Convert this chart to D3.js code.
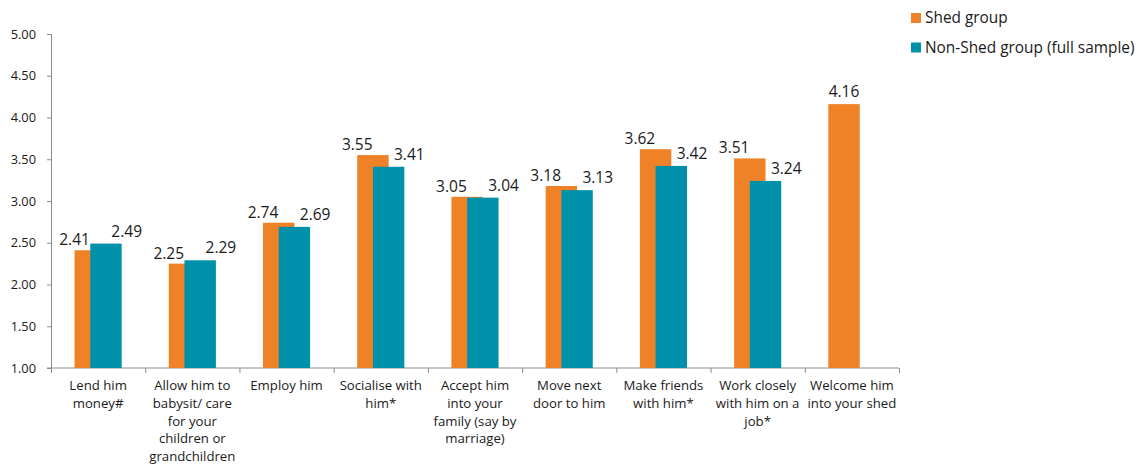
<!DOCTYPE html>
<html>
<head>
<meta charset="utf-8">
<script src="https://cdn.jsdelivr.net/npm/d3@7/dist/d3.min.js"></script>
<style>
  html, body { margin: 0; padding: 0; background: #fff; }
  svg { display: block; font-family: "Open Sans", "Noto Sans", sans-serif; }
</style>
</head>
<body>
<svg id="chart" width="1144" height="466"></svg>
<script>
// ---- data ----
const categories = [
  ["Lend him", "money#"],
  ["Allow him to", "babysit/ care", "for your", "children or", "grandchildren"],
  ["Employ him"],
  ["Socialise with", "him*"],
  ["Accept him", "into your", "family (say by", "marriage)"],
  ["Move next", "door to him"],
  ["Make friends", "with him*"],
  ["Work closely", "with him on a", "job*"],
  ["Welcome him", "into your shed"]
];
const shedValues    = [2.41, 2.25, 2.74, 3.55, 3.05, 3.18, 3.62, 3.51, 4.16];
const nonShedValues = [2.49, 2.29, 2.69, 3.41, 3.04, 3.13, 3.42, 3.24, null];
const seriesNames = ["Shed group", "Non-Shed group (full sample)"];
const yTicks = [1.0, 1.5, 2.0, 2.5, 3.0, 3.5, 4.0, 4.5, 5.0];

const colors = ["#EF8126", "#0091AA"];

(function () {
const svg = d3.select("#chart");
const pL = 51, pR = 899, pT = 34, pB = 368;

const x = d3.scaleBand().domain(d3.range(categories.length)).range([pL, pR]).paddingInner(0).paddingOuter(0);
const y = d3.scaleLinear().domain([1, 5]).range([pB, pT]);

const bw = x.bandwidth();
const barW = bw / 3;
const groupStart = i => x(i) + bw / 4;

// y axis
const yAxis = d3.axisLeft(y).tickValues(yTicks).tickFormat(d3.format(".2f")).tickSize(4).tickPadding(11);
const gy = svg.append("g").attr("transform", `translate(${pL},0)`).call(yAxis);
gy.attr("font-family", null).attr("font-size", null);
gy.select(".domain").attr("stroke", "#8c8c8c");
gy.selectAll(".tick line").attr("stroke", "#8c8c8c");
gy.selectAll(".tick text").attr("fill", "#1a1a1a").style("font-size", "12.8px");

// x axis with boundary ticks
const xb = d3.scaleLinear().domain([0, categories.length]).range([pL, pR]);
const gx = svg.append("g").attr("transform", `translate(0,${pB})`)
  .call(d3.axisBottom(xb).tickValues(d3.range(categories.length + 1)).tickSize(5).tickFormat(""));
gx.select(".domain").attr("stroke", "#8c8c8c").attr("d", `M${pL - 4},0H${pR}`);
gx.selectAll(".tick line").attr("stroke", "#8c8c8c");

// category labels
const catG = svg.append("g");
categories.forEach((lines, i) => {
  const t = catG.append("text")
    .attr("x", x(i) + bw / 2).attr("y", 390)
    .attr("text-anchor", "middle").attr("fill", "#1a1a1a").style("font-size", "13.2px");
  lines.forEach((ln, j) => {
    t.append("tspan").attr("x", x(i) + bw / 2).attr("dy", j === 0 ? 0 : 17.8).text(ln);
  });
});

// bars
svg.append("g").selectAll("rect").data(shedValues).join("rect")
  .attr("x", (d, i) => groupStart(i)).attr("width", barW)
  .attr("y", d => y(d)).attr("height", d => pB - y(d))
  .attr("fill", colors[0]);
svg.append("g").selectAll("rect").data(nonShedValues.map((v, i) => ({v, i})).filter(d => d.v != null)).join("rect")
  .attr("x", d => groupStart(d.i) + barW / 2).attr("width", barW)
  .attr("y", d => y(d.v)).attr("height", d => pB - y(d.v))
  .attr("fill", colors[1]);

// value labels
const lab = svg.append("g").style("font-size", "15.5px").attr("fill", "#1a1a1a").attr("text-anchor", "middle");
shedValues.forEach((v, i) => {
  const single = nonShedValues[i] == null;
  lab.append("text")
    .attr("x", single ? groupStart(i) + barW / 2 : groupStart(i))
    .attr("y", y(v) - (single ? 7 : 5))
    .text(d3.format(".2f")(v));
});
nonShedValues.forEach((v, i) => {
  if (v == null) return;
  lab.append("text")
    .attr("x", groupStart(i) + barW * 1.5 + 5)
    .attr("y", y(v) - 7)
    .text(d3.format(".2f")(v));
});

// legend
const lg = svg.append("g").attr("transform", "translate(911,0)");
seriesNames.forEach((s, i) => {
  lg.append("rect").attr("x", 0).attr("y", 13 + i * 29.5).attr("width", 10).attr("height", 10).attr("fill", colors[i]);
  lg.append("text").attr("x", 14).attr("y", 18 + i * 29.5).attr("dy", "0.35em")
    .style("font-size", "15.4px").attr("fill", "#1a1a1a").text(s);
});
})();
</script>
</body>
</html>
